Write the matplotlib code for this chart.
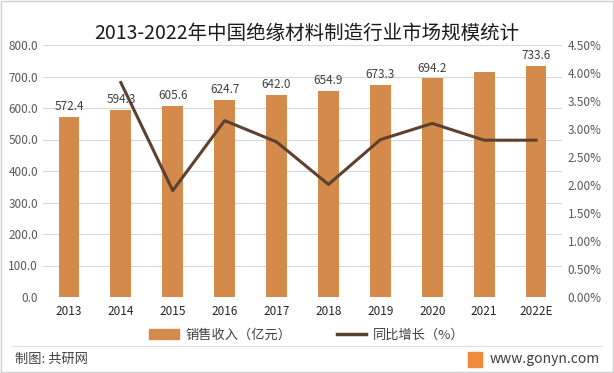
import numpy as np
import matplotlib.pyplot as plt
from matplotlib.patches import Rectangle
from matplotlib.lines import Line2D

plt.rcParams['font.family'] = ['Noto Sans CJK SC', 'DejaVu Sans']

years = ['2013', '2014', '2015', '2016', '2017', '2018', '2019', '2020', '2021', '2022E']
revenue = [572.4, 594.3, 605.6, 624.7, 642.0, 654.9, 673.3, 694.2, 713.6, 733.6]
shown_labels = ['572.4', '594.3', '605.6', '624.7', '642.0', '654.9', '673.3', '694.2', '', '733.6']
growth = [None, 3.83, 1.90, 3.15, 2.77, 2.01, 2.81, 3.10, 2.80, 2.80]

bar_color = '#D48A4B'
line_color = '#5C4130'
tick_color = '#595959'

fig = plt.figure(figsize=(6.14, 3.73), dpi=100)
ax = fig.add_axes([43 / 614, 1 - 297 / 373, (562 - 43) / 614, (297 - 45) / 373])

x = np.arange(len(years))
ax.bar(x, revenue, width=0.4, color=bar_color, zorder=2)
for xi, v, lab in zip(x, revenue, shown_labels):
    if lab:
        ax.text(xi, v + 12, lab, ha='center', va='bottom', fontsize=8.5, color='#404040')

ax.set_xlim(-0.5, len(years) - 0.5)
ax.set_ylim(0, 800)
ax.set_yticks(np.arange(0, 801, 100))
ax.set_yticklabels([f'{t:.1f}' for t in np.arange(0, 801, 100)])
ax.set_xticks(x)
ax.set_xticklabels(years)
ax.grid(axis='y', color='#D9D9D9', linewidth=0.8, zorder=0)
for s in ax.spines.values():
    s.set_visible(False)
ax.tick_params(axis='both', length=0, labelsize=8.5, colors=tick_color)
ax.tick_params(axis='x', colors='#262626', pad=6)

ax2 = ax.twinx()
gx = [xi for xi, g in zip(x, growth) if g is not None]
gy = [g for g in growth if g is not None]
ax2.plot(gx, gy, color=line_color, linewidth=2.2, zorder=3)
ax2.set_ylim(0, 4.5)
ax2.set_yticks(np.arange(0, 4.51, 0.5))
ax2.set_yticklabels([f'{t:.2f}%' for t in np.arange(0, 4.51, 0.5)])
for s in ax2.spines.values():
    s.set_visible(False)
ax2.tick_params(axis='y', length=0, labelsize=8.5, colors=tick_color, pad=4)

fig.text(0.5, 1 - 33 / 373, '2013-2022年中国绝缘材料制造行业市场规模统计',
         ha='center', va='center', fontsize=14, color='#1a1a1a')

handles = [Rectangle((0, 0), 1, 1, color=bar_color),
           Line2D([0], [0], color=line_color, linewidth=2.5)]
fig.legend(handles, ['销售收入（亿元）', '同比增长（%）'], loc='center',
           bbox_to_anchor=(0.5, 1 - 335 / 373), ncol=2, frameon=False,
           fontsize=9.5, handlelength=2.2, columnspacing=3.5, handletextpad=0.5,
           labelcolor='#404040')

fig.add_artist(Line2D([12 / 614, 602 / 614], [1 - 346 / 373, 1 - 346 / 373],
                      color='#E0E0E0', linewidth=0.8))
fig.text(15 / 614, 1 - 359 / 373, '制图: 共研网', ha='left', va='center',
         fontsize=9.5, color='#404040')
fig.add_artist(Rectangle((468 / 614, 1 - 367 / 373), 14 / 614, 15 / 373,
                         color='#F08A3C', transform=fig.transFigure))
fig.text(490 / 614, 1 - 359 / 373, 'www.gonyn.com', ha='left', va='center',
         fontsize=10, color='#404040')

fig.add_artist(Rectangle((1 / 614, 1 / 373), 612 / 614, 371 / 373, fill=False,
                         edgecolor='#D0D0D0', linewidth=1, transform=fig.transFigure))

fig.savefig('out.png', dpi=100)
